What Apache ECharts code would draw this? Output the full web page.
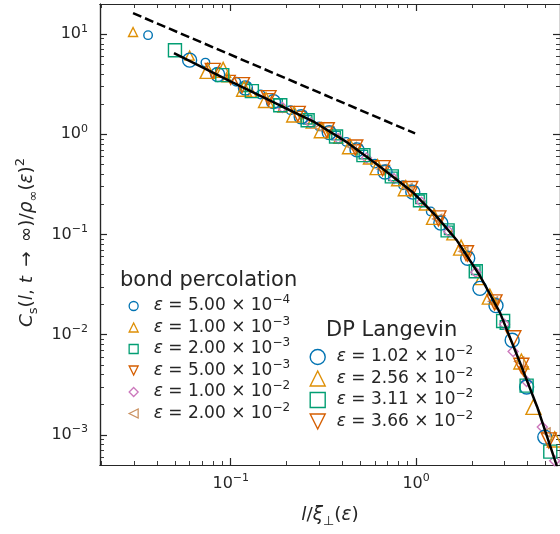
<!DOCTYPE html>
<html>
<head>
<meta charset="utf-8">
<script src="https://cdn.jsdelivr.net/npm/echarts@6/dist/echarts.min.js"></script>
<style>
  html, body { margin: 0; background: #fff; }
  #chart { width: 560px; height: 534px; }
</style>
</head>
<body>
<div id="chart"></div>
<script>
// axis ranges and ticks
const xMin = 0.0197, xMax = 5.98;
const yMin = 5e-4, yMax = 20;
const xMajor = [0.1, 1];
const xMajorExp = ['−1', '0'];
const xMinor = [0.02, 0.03, 0.04, 0.05, 0.06, 0.07, 0.08, 0.09, 0.2, 0.3, 0.4, 0.5, 0.6, 0.7, 0.8, 0.9, 2, 3, 4, 5];
const yMajor = [0.001, 0.01, 0.1, 1, 10];
const yMajorExp = ['−3', '−2', '−1', '0', '1'];
const yMinor = [6e-4, 7e-4, 8e-4, 9e-4, 0.002, 0.003, 0.004, 0.005, 0.006, 0.007, 0.008, 0.009,
  0.02, 0.03, 0.04, 0.05, 0.06, 0.07, 0.08, 0.09, 0.2, 0.3, 0.4, 0.5, 0.6, 0.7, 0.8, 0.9, 2, 3, 4, 5, 6, 7, 8, 9];

// legend labels
const bondEps = ['5.00', '1.00', '2.00', '5.00', '1.00', '2.00'];
const bondExp = ['−4', '−3', '−3', '−3', '−2', '−2'];
const dpEps = ['1.02', '2.56', '3.11', '3.66'];
const dpExp = ['−2', '−2', '−2', '−2'];

// bond percolation data
const bond5e4 = [[0.0358, 9.77], [0.073, 5.2], [0.107, 3.35], [0.145, 2.5], [0.21, 1.74], [0.3, 1.2], [0.42, 0.84], [0.6, 0.51], [0.85, 0.31], [1.2, 0.17]];
const bond1e3 = [[0.0297, 10.5], [0.06, 6.1], [0.095, 3.7], [0.13, 2.6], [0.19, 1.85], [0.27, 1.28], [0.38, 0.9], [0.55, 0.56], [0.78, 0.34], [1.1, 0.195], [1.55, 0.098], [2.2, 0.035]];
const bond2e3 = [[0.12, 2.95], [0.18, 2.05], [0.26, 1.4], [0.37, 0.97], [0.52, 0.63], [0.75, 0.38], [1.05, 0.225], [1.5, 0.11], [2.1, 0.044], [3.0, 0.0125]];
const bond5e3 = [[0.1, 3.5], [0.16, 2.3], [0.24, 1.53], [0.34, 1.07], [0.48, 0.71], [0.68, 0.44], [0.96, 0.27], [1.35, 0.138], [1.9, 0.06], [2.7, 0.02], [3.8, 0.0043]];
const bond1e2 = [[0.19, 1.85], [0.27, 1.3], [0.38, 0.91], [0.54, 0.58], [0.76, 0.36], [1.07, 0.21], [1.5, 0.107], [2.1, 0.042], [3.0, 0.0127], [3.34, 0.0068], [3.95, 0.0034], [4.8, 0.0012], [5.6, 0.00055]];
const bond2e2 = [[0.3, 1.17], [0.45, 0.75], [0.65, 0.45], [0.9, 0.29], [1.3, 0.143], [1.8, 0.068], [2.6, 0.0215], [3.6, 0.0054], [5.0, 0.00106]];

// DP Langevin data
const dp102 = [[0.06, 5.5], [0.085, 3.95], [0.12, 2.9], [0.17, 2.12], [0.24, 1.5], [0.34, 1.04], [0.48, 0.7], [0.68, 0.42], [0.96, 0.265], [1.36, 0.13], [1.9, 0.058], [2.21, 0.029], [2.7, 0.0195], [3.3, 0.0088], [3.95, 0.003], [4.95, 0.00095]];
const dp256 = [[0.075, 4.3], [0.091, 4.4], [0.118, 2.85], [0.155, 2.2], [0.22, 1.58], [0.31, 1.1], [0.44, 0.76], [0.62, 0.47], [0.88, 0.29], [1.25, 0.15], [1.75, 0.074], [2.5, 0.024], [3.7, 0.0054], [4.3, 0.0019], [5.6, 0.0009]];
const dp311 = [[0.05, 6.9], [0.09, 3.9], [0.13, 2.7], [0.185, 1.95], [0.26, 1.38], [0.37, 0.95], [0.52, 0.62], [0.74, 0.38], [1.05, 0.22], [1.48, 0.11], [2.1, 0.043], [2.95, 0.0137], [3.95, 0.0031], [5.3, 0.00068]];
const dp366 = [[0.08, 4.3], [0.115, 3.1], [0.16, 2.3], [0.23, 1.6], [0.33, 1.1], [0.47, 0.74], [0.66, 0.46], [0.93, 0.285], [1.32, 0.145], [1.86, 0.065], [2.65, 0.021], [3.35, 0.0092], [3.7, 0.0049], [5.2, 0.00088]];

// reference curves
const fitCurve = [[0.0494, 6.46], [0.099, 3.4], [0.1845, 1.94], [0.278, 1.35], [0.425, 0.83], [0.64, 0.475], [0.964, 0.262], [1.297, 0.15], [1.663, 0.087], [2.215, 0.0385], [2.84, 0.0165], [3.64, 0.00524], [4.5, 0.00191], [5.77, 0.00048]];
const powerLaw = [[0.0297, 16.2], [0.988, 1.02]];

const ink = '#262626';
const font = 'DejaVu Sans';
const triDown = 'path://M0,0L2,0L1,2Z';
const triLeft = 'path://M0,1L2,0L2,2Z';

function findExp(list, exps, value) {
  for (let i = 0; i < list.length; i++) {
    if (Math.abs(list[i] - value) / list[i] < 1e-4) return exps[i];
  }
  return '';
}

const tickRich = {
  b: { fontFamily: font, fontSize: 16, lineHeight: 22, color: ink },
  s: { fontFamily: font, fontSize: 11, lineHeight: 11, color: ink, verticalAlign: 'top' }
};

function xAxisDef(position, ticks, len, labels) {
  return {
    type: 'log', logBase: 10, position: position, min: xMin, max: xMax, gridIndex: 0,
    axisLine: { show: true, lineStyle: { color: ink, width: 1.2 } },
    axisTick: { show: true, inside: true, length: len, customValues: ticks, lineStyle: { color: ink, width: len > 5 ? 1.2 : 0.9 } },
    axisLabel: labels ? {
      customValues: ticks, margin: 8,
      formatter: v => '{b|10}{s|' + findExp(xMajor, xMajorExp, v) + '}',
      rich: tickRich
    } : { show: false },
    splitLine: { show: false }
  };
}

function yAxisDef(position, ticks, len, labels) {
  return {
    type: 'log', logBase: 10, position: position, min: yMin, max: yMax, gridIndex: 0,
    axisLine: { show: true, lineStyle: { color: ink, width: 1.2 } },
    axisTick: { show: true, inside: true, length: len, customValues: ticks, lineStyle: { color: ink, width: len > 5 ? 1.2 : 0.9 } },
    axisLabel: labels ? {
      customValues: ticks, margin: 12,
      formatter: v => '{b|10}{s|' + findExp(yMajor, yMajorExp, v) + '}',
      rich: tickRich
    } : { show: false },
    splitLine: { show: false }
  };
}

const nameRich = {
  i: { fontFamily: font, fontSize: 18.5, lineHeight: 26, fontStyle: 'italic', color: ink },
  r: { fontFamily: font, fontSize: 18.5, lineHeight: 26, color: ink },
  sb: { fontFamily: font, fontSize: 13, lineHeight: 13, color: ink, verticalAlign: 'bottom' },
  sp: { fontFamily: font, fontSize: 13, lineHeight: 13, color: ink, verticalAlign: 'top' }
};

function scatter(name, data, symbol, color, size) {
  return {
    name: name, type: 'scatter', data: data, symbol: symbol, symbolSize: size,
    itemStyle: { color: 'rgba(0,0,0,0)', borderColor: color, borderWidth: 1.4, opacity: 1 },
    emphasis: { disabled: true }, z: 2
  };
}

function legendText(eps, exp) {
  return '{it|ε}{t| = ' + eps + ' × 10}{s|' + exp + '}';
}

function legendRich(pad) {
  return {
    it: { fontFamily: font, fontSize: 17, lineHeight: 24, fontStyle: 'italic', color: ink, padding: [0, 0, 0, pad] },
    t: { fontFamily: font, fontSize: 17, lineHeight: 24, color: ink },
    s: { fontFamily: font, fontSize: 12, lineHeight: 12, color: ink, verticalAlign: 'top' }
  };
}

const bondNames = ['b0', 'b1', 'b2', 'b3', 'b4', 'b5'];
const dpNames = ['d0', 'd1', 'd2', 'd3'];

let options = {
  animation: false,
  backgroundColor: '#fff',
  grid: { left: 100, right: 0, top: 4, bottom: 69 },
  title: [
    { text: 'bond percolation', left: 120, top: 269, padding: 0,
      textStyle: { fontFamily: font, fontSize: 21, fontWeight: 'normal', color: ink, lineHeight: 24 } },
    { text: 'DP Langevin', left: 326, top: 319, padding: 0,
      textStyle: { fontFamily: font, fontSize: 21, fontWeight: 'normal', color: ink, lineHeight: 24 } }
  ],
  legend: [
    {
      data: bondNames, orient: 'vertical', left: 128.5, top: 294, padding: 0,
      itemWidth: 9, itemHeight: 9, itemGap: 1, selectedMode: false,
      itemStyle: { borderWidth: 1.3 },
      formatter: n => legendText(bondEps[bondNames.indexOf(n)], bondExp[bondNames.indexOf(n)]),
      textStyle: { color: ink, rich: legendRich(10.5) }
    },
    {
      data: dpNames, orient: 'vertical', left: 309.5, top: 345, padding: 0,
      itemWidth: 15, itemHeight: 15, itemGap: 1, selectedMode: false,
      itemStyle: { borderWidth: 1.4 },
      formatter: n => legendText(dpEps[dpNames.indexOf(n)], dpExp[dpNames.indexOf(n)]),
      textStyle: { color: ink, rich: legendRich(6.5) }
    }
  ],
  xAxis: [
    Object.assign(xAxisDef('bottom', xMajor, 7, true), {
      name: '{i|l}{r|/}{i|ξ}{sb|⊥}{r|(}{i|ε}{r|)}', nameLocation: 'middle', nameGap: 37,
      nameTextStyle: { rich: nameRich }
    }),
    xAxisDef('bottom', xMinor, 4, false),
    xAxisDef('top', xMajor, 7, false),
    xAxisDef('top', xMinor, 4, false)
  ],
  yAxis: [
    Object.assign(yAxisDef('left', yMajor, 7, true), {
      name: '{i|C}{sb|s}{r|(}{i|l}{r|, }{i|t}{r|\u2002→\u2002∞)/}{i|ρ}{sb|∞}{r|(}{i|ε}{r|)}{sp|2}',
      nameLocation: 'middle', nameGap: 60,
      nameTextStyle: { rich: nameRich, padding: [0, 16, 0, 0] }
    }),
    yAxisDef('left', yMinor, 4, false),
    yAxisDef('right', yMajor, 7, false),
    yAxisDef('right', yMinor, 4, false)
  ],
  series: [
    scatter('b0', bond5e4, 'circle', '#0173b2', 8.5),
    scatter('b1', bond1e3, 'triangle', '#de8f05', 9),
    scatter('b2', bond2e3, 'rect', '#029e73', 8.5),
    scatter('b3', bond5e3, triDown, '#d55e00', 9),
    scatter('b4', bond1e2, 'diamond', '#cc78bc', 10),
    scatter('b5', bond2e2, triLeft, '#ca9161', 9),
    scatter('d0', dp102, 'circle', '#0173b2', 14),
    scatter('d1', dp256, 'triangle', '#de8f05', 15),
    scatter('d2', dp311, 'rect', '#029e73', 13),
    scatter('d3', dp366, triDown, '#d55e00', 15),
    {
      name: 'fit', type: 'line', data: fitCurve, symbol: 'none', smooth: false,
      lineStyle: { color: '#000', width: 2.5 }, z: 4, silent: true
    },
    {
      name: 'power', type: 'line', data: powerLaw, symbol: 'none',
      lineStyle: { color: '#000', width: 2.5, type: [9, 4] }, z: 4, silent: true
    }
  ]
};

let myChart = echarts.init(document.getElementById('chart'));
myChart.setOption(options);
</script>
</body>
</html>
